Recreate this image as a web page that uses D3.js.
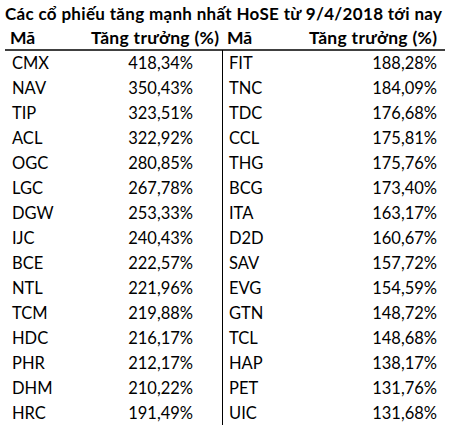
<!DOCTYPE html>
<html><head><meta charset="utf-8">
<script src="https://d3js.org/d3.v7.min.js"></script>
<style>body{margin:0;background:#fff}</style>
</head><body><div id="chart"></div>
<script>
var title = "Các cổ phiếu tăng mạnh nhất HoSE từ 9/4/2018 tới nay";
var headers = ["Mã", "Tăng trưởng (%)"];
var leftCodes = ["CMX","NAV","TIP","ACL","OGC","LGC","DGW","IJC","BCE","NTL","TCM","HDC","PHR","DHM","HRC"];
var leftValues = [418.34,350.43,323.51,322.92,280.85,267.78,253.33,240.43,222.57,221.96,219.88,216.17,212.17,210.22,191.49];
var rightCodes = ["FIT","TNC","TDC","CCL","THG","BCG","ITA","D2D","SAV","EVG","GTN","TCL","HAP","PET","UIC"];
var rightValues = [188.28,184.09,176.68,175.81,175.76,173.40,163.17,160.67,157.72,154.59,148.72,148.68,138.17,131.76,131.68];

var svg = d3.select("#chart").append("svg").attr("width",449).attr("height",431);
var font = "Lato, 'DejaVu Sans', sans-serif";
var fmt = function(v){ return d3.format(".2f")(v).replace(".", ",") + "%"; };

svg.append("text").attr("x",5).attr("y",20).attr("font-family",font)
   .attr("font-weight","bold").attr("font-size",17).attr("textLength",437).text(title);

var cols = [{x:12, vx:193, hx:219, codes:leftCodes, vals:leftValues},
            {x:229, vx:437, hx:437, codes:rightCodes, vals:rightValues}];

var y = d3.scaleBand().domain(d3.range(leftCodes.length)).range([51,425]);

for (var c of cols) {
  svg.append("text").attr("x",c.x-2).attr("y",44).attr("font-family",font)
     .attr("font-weight","bold").attr("font-size",17.5).text(headers[0]);
  svg.append("text").attr("x",c.hx).attr("y",44).attr("font-family",font)
     .attr("font-weight","bold").attr("font-size",17.5).attr("text-anchor","end")
     .attr("textLength",128).text(headers[1]);
  svg.selectAll(null).data(c.codes).enter().append("text")
     .attr("x",c.x).attr("y",(d,i)=>y(i)+y.bandwidth()/2+6)
     .attr("font-family",font).attr("font-size",16.5).text(d=>d);
  svg.selectAll(null).data(c.vals).enter().append("text")
     .attr("x",c.vx).attr("y",(d,i)=>y(i)+y.bandwidth()/2+6).attr("text-anchor","end")
     .attr("font-family",font).attr("font-size",16.5).text(fmt);
}

svg.append("line").attr("x1",5).attr("x2",445).attr("y1",50).attr("y2",50)
   .attr("stroke","#000").attr("stroke-width",1.5);
svg.append("line").attr("x1",222.5).attr("x2",222.5).attr("y1",50).attr("y2",425)
   .attr("stroke","#000").attr("stroke-width",1);
</script></body></html>
